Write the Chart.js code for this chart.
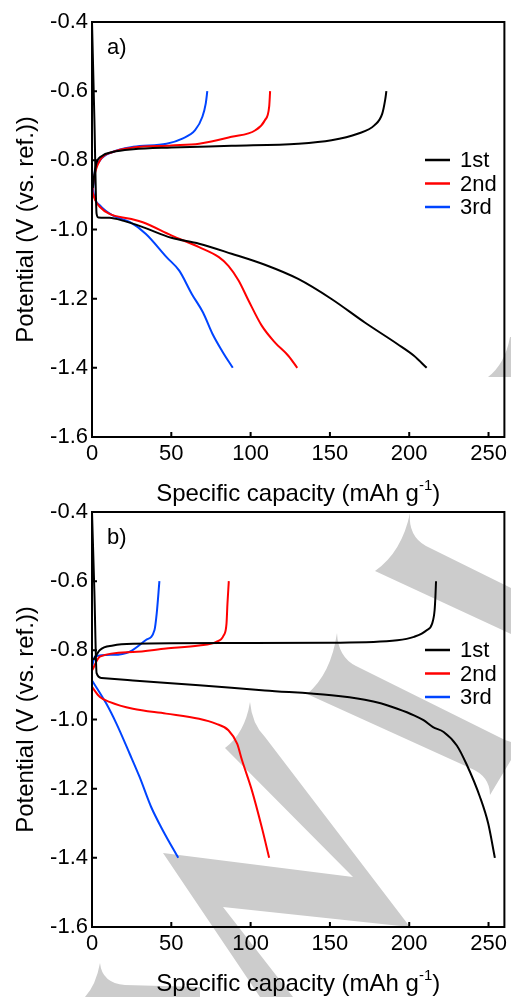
<!DOCTYPE html>
<html>
<head>
<meta charset="utf-8">
<script src="https://cdn.jsdelivr.net/npm/chart.js@4.4.1/dist/chart.umd.min.js"></script>
<style>
  body { margin: 0; background: #fff; }
  #wrap { position: relative; width: 511px; height: 997px; overflow: hidden; }
  canvas { position: absolute; left: 0; }
</style>
</head>
<body>
<div id="wrap">
  <canvas id="mark" width="511" height="997" style="top:0"></canvas>
  <canvas id="chartA" width="511" height="515" style="top:0"></canvas>
  <canvas id="chartB" width="511" height="507" style="top:490px"></canvas>
</div>
<script>
const cycleNames = ["1st", "2nd", "3rd"];
const cycleColors = ["#000000", "#ff0000", "#0044ff"];
const xTicks = [0, 50, 100, 150, 200, 250];
const yTicks = [-1.6, -1.4, -1.2, -1.0, -0.8, -0.6, -0.4];

// panel a) discharge / charge curves
const a1DisCap = [0, 1.5, 2.9, 4, 11, 20, 32, 50, 67.5, 88, 109, 130, 151, 172, 192.5, 203, 211];
const a1DisV = [-0.40, -0.68, -0.955, -0.965, -0.966, -0.975, -0.993, -1.024, -1.041, -1.070, -1.102, -1.143, -1.201, -1.269, -1.331, -1.365, -1.40];
const a1ChaCap = [0.5, 1.5, 3, 6, 13, 26, 50, 88, 130, 151, 167.5, 178, 183, 184.8, 185.6];
const a1ChaV = [-0.88, -0.84, -0.805, -0.788, -0.776, -0.768, -0.763, -0.758, -0.752, -0.742, -0.723, -0.699, -0.665, -0.626, -0.60];

const a2DisCap = [0, 2, 5, 11, 24, 32, 50, 67.5, 80, 86, 92.5, 98.75, 107, 115.4, 123.75, 129.4];
const a2DisV = [-0.887, -0.915, -0.935, -0.955, -0.969, -0.979, -1.017, -1.051, -1.080, -1.105, -1.148, -1.206, -1.278, -1.327, -1.365, -1.40];
const a2ChaCap = [0.2, 1.5, 5, 13, 26, 50, 67.5, 88, 103, 109, 111.7, 112.3];
const a2ChaV = [-0.89, -0.845, -0.80, -0.776, -0.763, -0.757, -0.752, -0.732, -0.713, -0.684, -0.645, -0.60];

const a3DisCap = [0, 0.3, 1, 5, 13, 24, 34, 47, 55, 63, 70, 76, 82, 88.75];
const a3DisV = [-0.82, -0.86, -0.895, -0.93, -0.959, -0.979, -1.013, -1.080, -1.119, -1.187, -1.240, -1.302, -1.351, -1.40];
const a3ChaCap = [0.5, 2, 5, 13, 26, 47, 57, 65, 69.6, 71.7, 72.7];
const a3ChaV = [-0.89, -0.83, -0.80, -0.776, -0.761, -0.752, -0.737, -0.713, -0.674, -0.636, -0.60];

// panel b)
const b1DisCap = [0, 1.5, 2.9, 6, 25.8, 67.5, 109, 151, 172, 182, 192.5, 203, 209, 215, 221.7, 230, 236, 244.6, 249.8, 254];
const b1DisV = [-0.40, -0.63, -0.866, -0.880, -0.887, -0.901, -0.916, -0.930, -0.943, -0.953, -0.969, -0.988, -1.002, -1.022, -1.036, -1.075, -1.128, -1.224, -1.301, -1.40];
const b1ChaCap = [0.8, 5, 13.3, 25.8, 88, 151, 192.5, 203, 211, 214.4, 216, 216.5, 216.9];
const b1ChaV = [-0.828, -0.799, -0.786, -0.781, -0.779, -0.778, -0.771, -0.761, -0.742, -0.723, -0.684, -0.646, -0.60];

const b2DisCap = [0, 5, 11, 25.8, 46.7, 67.5, 78, 86, 91.5, 94.6, 100.8, 107, 111.7];
const b2DisV = [-0.906, -0.935, -0.949, -0.969, -0.983, -0.998, -1.012, -1.031, -1.070, -1.118, -1.205, -1.311, -1.40];
const b2ChaCap = [0.2, 5, 25.8, 46.7, 67.5, 78, 83, 84.8, 85.4, 86.25];
const b2ChaV = [-0.857, -0.818, -0.805, -0.795, -0.786, -0.776, -0.757, -0.723, -0.665, -0.60];

const b3DisCap = [0, 9, 15.4, 23.75, 30, 37.3, 44.6, 54.4];
const b3DisV = [-0.887, -0.954, -1.012, -1.099, -1.166, -1.253, -1.320, -1.40];
const b3ChaCap = [0, 1.9, 13.3, 23.75, 34, 39.4, 40.8, 42.5];
const b3ChaV = [-0.848, -0.818, -0.813, -0.804, -0.770, -0.741, -0.693, -0.60];

const fontFam = "'Liberation Sans', Arial, sans-serif";

function pts(xs, ys) {
  return xs.map((x, i) => ({ x: x, y: ys[i] }));
}

function curve(xs, ys, cycle, withLabel) {
  return {
    label: withLabel ? cycleNames[cycle] : "",
    data: pts(xs, ys),
    showLine: true,
    borderColor: cycleColors[cycle],
    backgroundColor: cycleColors[cycle],
    borderWidth: 2,
    pointRadius: 0,
    cubicInterpolationMode: "monotone",
  };
}

// gray watermark in the background (decoration only)
(function () {
  const ctx = document.getElementById("mark").getContext("2d");
  ctx.fillStyle = "#cccccc";
  const shapes = [
    [["M", 410, 513], ["Q", 408, 536, 426, 546], ["L", 511, 588], ["L", 511, 634], ["L", 375, 571], ["Q", 402, 552, 410, 513]],
    [["M", 337, 633], ["Q", 338, 657, 356, 666], ["L", 505, 740], ["L", 511, 742], ["L", 511, 760], ["L", 490, 795], ["Q", 490, 776, 470, 768], ["L", 307, 694], ["Q", 331, 674, 337, 633]],
    [["M", 250, 702], ["Q", 252, 724, 265, 737], ["L", 410, 927], ["L", 223, 907], ["L", 293, 997], ["L", 260, 997], ["L", 163, 853], ["L", 353, 877], ["L", 225, 748], ["Q", 245, 733, 250, 702]],
    [["M", 100, 963], ["Q", 102, 983, 125, 985], ["L", 200, 987], ["L", 200, 997], ["L", 85, 997], ["Q", 96, 985, 100, 963]],
    [["M", 510, 337], ["L", 511, 337], ["L", 511, 377], ["L", 488, 377], ["Q", 505, 364, 510, 337]],
  ];
  shapes.forEach((s) => {
    ctx.beginPath();
    s.forEach((c) => {
      if (c[0] === "M") ctx.moveTo(c[1], c[2]);
      else if (c[0] === "L") ctx.lineTo(c[1], c[2]);
      else ctx.quadraticCurveTo(c[1], c[2], c[3], c[4]);
    });
    ctx.closePath();
    ctx.fill();
  });
})();

const framePlugin = {
  id: "frame",
  afterDraw(chart, args, opts) {
    const { ctx, chartArea: a, scales } = chart;
    ctx.save();
    ctx.strokeStyle = "#000";
    ctx.lineWidth = 2;
    ctx.strokeRect(a.left, a.top, a.right - a.left, a.bottom - a.top);
    // inward ticks
    ctx.beginPath();
    scales.x.ticks.forEach((t) => {
      const px = scales.x.getPixelForValue(t.value);
      ctx.moveTo(px, a.bottom);
      ctx.lineTo(px, a.bottom - 5);
    });
    scales.y.ticks.forEach((t) => {
      const py = scales.y.getPixelForValue(t.value);
      ctx.moveTo(a.left, py);
      ctx.lineTo(a.left + 5, py);
    });
    ctx.stroke();

    ctx.fillStyle = "#000";
    // panel letter
    ctx.font = "22px " + fontFam;
    ctx.textAlign = "left";
    ctx.textBaseline = "middle";
    ctx.fillText(opts.panel, a.left + 15, a.top + 26);

    // legend
    const items = chart.data.datasets.filter((d) => d.label);
    items.forEach((d, i) => {
      const y = a.top + 138 + i * 23.5;
      ctx.strokeStyle = d.borderColor;
      ctx.lineWidth = 2.5;
      ctx.beginPath();
      ctx.moveTo(a.left + 333, y);
      ctx.lineTo(a.left + 358, y);
      ctx.stroke();
      ctx.fillText(d.label, a.left + 368, y + 1);
    });

    // x title with superscript
    ctx.textBaseline = "alphabetic";
    const main = "Specific capacity (mAh g";
    const sup = "-1";
    const close = ")";
    ctx.font = "24px " + fontFam;
    const wMain = ctx.measureText(main).width;
    const wClose = ctx.measureText(close).width;
    ctx.font = "15px " + fontFam;
    const wSup = ctx.measureText(sup).width;
    const total = wMain + wSup + wClose;
    const x0 = (a.left + a.right) / 2 - total / 2;
    const base = a.bottom + 64;
    ctx.font = "24px " + fontFam;
    ctx.fillText(main, x0, base);
    ctx.font = "15px " + fontFam;
    ctx.fillText(sup, x0 + wMain, base - 11);
    ctx.font = "24px " + fontFam;
    ctx.fillText(close, x0 + wMain + wSup, base);

    // y title
    ctx.translate(33, (a.top + a.bottom) / 2);
    ctx.rotate(-Math.PI / 2);
    ctx.textAlign = "center";
    ctx.fillText("Potential (V (vs. ref.))", 0, 0);
    ctx.restore();
  },
};

function makeChart(id, datasets, panel, canvasH) {
  const el = document.getElementById(id);
  return new Chart(el.getContext("2d"), {
    type: "scatter",
    data: { datasets: datasets },
    options: {
      responsive: false,
      animation: false,
      layout: { padding: { top: 22, right: 3, left: 0, bottom: 0 } },
      scales: {
        x: {
          type: "linear",
          min: 0,
          max: 260,
          grid: { display: false, drawTicks: false },
          border: { display: false },
          afterBuildTicks: (s) => { s.ticks = xTicks.map((v) => ({ value: v })); },
          afterFit: (s) => { s.height = canvasH - 437; },
          ticks: {
            color: "#000",
            padding: 4,
            maxRotation: 0,
            font: { family: fontFam, size: 22 },
            callback: (v) => String(v),
          },
        },
        y: {
          type: "linear",
          min: -1.6,
          max: -0.4,
          grid: { display: false, drawTicks: false },
          border: { display: false },
          afterBuildTicks: (s) => { s.ticks = yTicks.map((v) => ({ value: v })); },
          afterFit: (s) => { s.width = 92; },
          ticks: {
            color: "#000",
            padding: 4,
            font: { family: fontFam, size: 22 },
            callback: (v) => Number(v).toFixed(1),
          },
        },
      },
      plugins: {
        legend: { display: false },
        tooltip: { enabled: false },
        frame: { panel: panel },
      },
    },
    plugins: [framePlugin],
  });
}

makeChart("chartA", [
  curve(a1DisCap, a1DisV, 0, true),
  curve(a1ChaCap, a1ChaV, 0, false),
  curve(a2DisCap, a2DisV, 1, true),
  curve(a2ChaCap, a2ChaV, 1, false),
  curve(a3DisCap, a3DisV, 2, true),
  curve(a3ChaCap, a3ChaV, 2, false),
], "a)", 515);

makeChart("chartB", [
  curve(b1DisCap, b1DisV, 0, true),
  curve(b1ChaCap, b1ChaV, 0, false),
  curve(b2DisCap, b2DisV, 1, true),
  curve(b2ChaCap, b2ChaV, 1, false),
  curve(b3DisCap, b3DisV, 2, true),
  curve(b3ChaCap, b3ChaV, 2, false),
], "b)", 507);
</script>
</body>
</html>
